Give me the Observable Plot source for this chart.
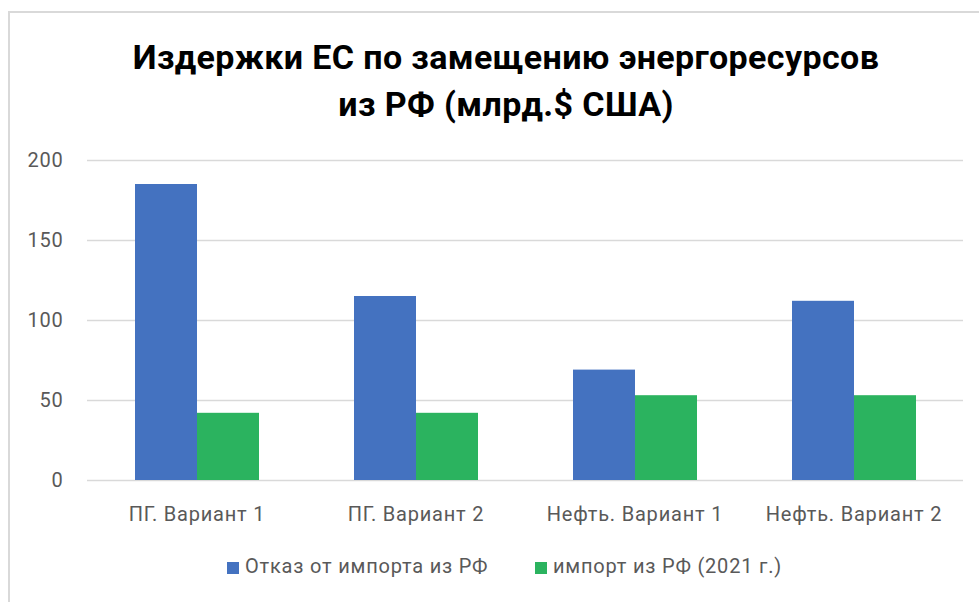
<!DOCTYPE html>
<html>
<head>
<meta charset="utf-8">
<script src="https://cdn.jsdelivr.net/npm/d3@7"></script>
<script src="https://cdn.jsdelivr.net/npm/@observablehq/plot@0.6"></script>
<style>
  html, body { margin: 0; padding: 0; background: #fff; width: 979px; height: 602px; overflow: hidden; }
  #frame { position: absolute; left: 8px; top: 11px; width: 1200px; height: 1200px;
           border-left: 2px solid #d9d9d9; border-top: 2px solid #d9d9d9; box-sizing: border-box; }
  .title { position: absolute; left: 0; width: 1012px; text-align: center;
           font-family: Roboto, "Open Sans", sans-serif; font-weight: 700; font-size: 34px;
           letter-spacing: 0.4px; color: #000; line-height: 40px; white-space: nowrap; }
  #chart { position: absolute; left: 0; top: 140px; }
  #chart text { letter-spacing: 0.8px; }
  .leg { position: absolute; top: 553px; font-family: Roboto, sans-serif; font-size: 20px; color: #595959;
         letter-spacing: 0.8px; white-space: nowrap; line-height: 26px; }
  .sw { display: inline-block; width: 12px; height: 12px; margin-right: 6px; vertical-align: -1px; }
</style>
</head>
<body>
<div id="frame"></div>
<div class="title" id="t1" style="top:37px"></div>
<div class="title" id="t2" style="top:84px"></div>
<div id="chart"></div>
<div class="leg" id="leg1" style="left:227px"></div>
<div class="leg" id="leg2" style="left:535px"></div>
<script>
const titleLines = ["Издержки ЕС по замещению энергоресурсов", "из РФ (млрд.$ США)"];
const categories = ["ПГ. Вариант 1", "ПГ. Вариант 2", "Нефть. Вариант 1", "Нефть. Вариант 2"];
const series = ["Отказ от импорта из РФ", "импорт из РФ (2021 г.)"];
const refusalValues = [185, 115, 69, 112];
const import2021Values = [42, 42, 53, 53];
const yTicks = [0, 50, 100, 150, 200];
const colors = ["#4472c0", "#2bb35f"];

const data = [];
categories.forEach((c, i) => {
  data.push({cat: c, series: series[0], value: refusalValues[i]});
  data.push({cat: c, series: series[1], value: import2021Values[i]});
});

document.getElementById("t1").textContent = titleLines[0];
document.getElementById("t2").textContent = titleLines[1];

const chart = Plot.plot({
  width: 979,
  height: 400,
  marginTop: 20,
  marginBottom: 60,
  marginLeft: 86,
  marginRight: 15,
  style: {fontFamily: "Roboto, sans-serif", fontSize: "20px", color: "#595959", background: "transparent"},
  facet: {data: data, x: "cat"},
  fx: {domain: categories, padding: 0, paddingInner: 0, paddingOuter: 0, label: null, tickSize: 0, tickPadding: 26},
  x: {domain: series, paddingInner: 0, paddingOuter: 0.756, axis: null},
  y: {domain: [0, 200], ticks: yTicks, tickSize: 0, tickPadding: 24, label: null, tickFormat: d => String(d)},
  color: {domain: series, range: colors},
  marks: [
    Plot.ruleY(yTicks, {stroke: "#d9d9d9", strokeWidth: 1.5}),
    Plot.barY(data, {x: "series", y: "value", fill: "series", inset: 0})
  ]
});
document.getElementById("chart").appendChild(chart);

[["leg1", 0], ["leg2", 1]].forEach(([id, k]) => {
  const el = document.getElementById(id);
  const sw = document.createElement("span");
  sw.className = "sw";
  sw.style.background = colors[k];
  el.appendChild(sw);
  el.appendChild(document.createTextNode(series[k]));
});
</script>
</body>
</html>
